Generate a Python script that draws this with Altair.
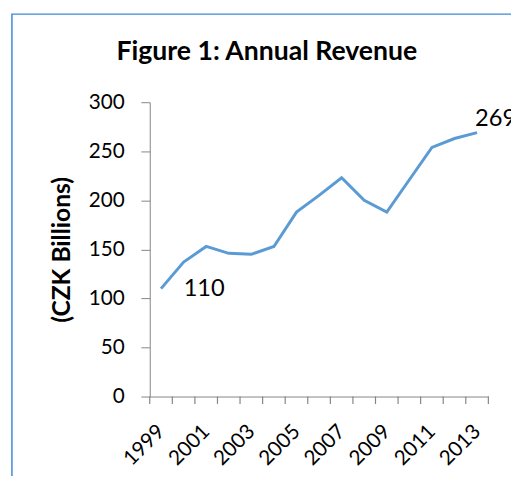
import altair as alt
import pandas as pd

# ---- data ----
years = list(range(1999, 2014))
revenue = [110, 137, 153, 146, 145, 153, 188, 205, 223, 200, 188, 221, 254, 263, 269]
first_year = 1999
last_year = 2013
y_ticks = [0, 50, 100, 150, 200, 250, 300]
x_label_years = [1999, 2001, 2003, 2005, 2007, 2009, 2011, 2013]
x_boundaries = [y - 0.5 for y in years] + [years[-1] + 0.5]
chart_title = "Figure 1: Annual Revenue"
y_title = "(CZK Billions)"

df = pd.DataFrame({"year": years, "revenue": revenue})
df["label"] = [str(v) for v in revenue]
ticks_df = pd.DataFrame({"boundary": x_boundaries})

AXIS_GRAY = "#858585"
LINE_BLUE = "#5B9BD5"
FRAME_BLUE = "#3D8BD8"
FONT = "Lato"

x_scale = alt.Scale(domain=[1998.5, 2013.5], nice=False, zero=False)
y_scale = alt.Scale(domain=[0, 300], nice=False)

x_axis = alt.Axis(
    values=x_label_years,
    tickCount=40,
    format="d",
    labelFont=FONT,
    labelFontSize=21,
    labelColor="black",
    labelAngle=-45,
    labelAlign="right",
    labelBaseline="middle",
    labelOverlap=False,
    labelFlush=False,
    ticks=False,
    labelPadding=32,
    domainColor=AXIS_GRAY,
    grid=False,
    title=None,
)

y_axis = alt.Axis(
    values=y_ticks,
    tickCount=40,
    tickSize=9,
    labelPadding=17,
    labelFont=FONT,
    labelFontSize=21,
    labelColor="black",
    tickColor=AXIS_GRAY,
    domainColor=AXIS_GRAY,
    grid=False,
    title=y_title,
    titleFont=FONT,
    titleFontSize=25,
    titleFontWeight="bold",
    titleColor="black",
    titleAngle=270,
    titleAlign="center",
    titleBaseline="middle",
    titleX=-90,
    titleY=149.5,
)

base = alt.Chart(df)

frame = alt.Chart(alt.Data(values=[{"t": chart_title}])).mark_rect(
    fill="transparent", stroke=FRAME_BLUE, strokeWidth=1.5
).encode(
    x=alt.value(-140), x2=alt.value(700),
    y=alt.value(-89.5), y2=alt.value(700),
)

title_mark = alt.Chart(alt.Data(values=[{"t": chart_title}])).mark_text(
    font=FONT, fontSize=27, fontWeight="bold", color="black",
    align="center", baseline="alphabetic",
).encode(
    x=alt.value(119), y=alt.value(-43), text="t:N",
)

# category-boundary tick marks below the x axis
x_ticks = alt.Chart(ticks_df).mark_rule(color=AXIS_GRAY, strokeWidth=1.2).encode(
    x=alt.X("boundary:Q", scale=x_scale),
    y=alt.Y(datum=0, scale=y_scale),
    y2=alt.value(306.5),
)

line = base.mark_line(color=LINE_BLUE, strokeWidth=3).encode(
    x=alt.X("year:Q", scale=x_scale, axis=x_axis),
    y=alt.Y("revenue:Q", scale=y_scale, axis=y_axis),
)

first_label = base.transform_filter(alt.datum.year == first_year).mark_text(
    font=FONT, fontSize=24, align="left", baseline="middle", dx=23, color="black"
).encode(
    x=alt.X("year:Q", scale=x_scale),
    y=alt.Y("revenue:Q", scale=y_scale),
    text="label:N",
)

last_label = base.transform_filter(alt.datum.year == last_year).mark_text(
    font=FONT, fontSize=24, align="left", baseline="middle", dx=-2, dy=-14, color="black"
).encode(
    x=alt.X("year:Q", scale=x_scale),
    y=alt.Y("revenue:Q", scale=y_scale),
    text="label:N",
)

chart = alt.layer(frame, title_mark, x_ticks, line, first_label, last_label).properties(
    width=344,
    height=299,
    autosize=alt.AutoSizeParams(type="none"),
    padding={"left": 144, "top": 92, "right": 23, "bottom": 77},
).configure_view(stroke="transparent")

chart.save("out.html", embed_options={"renderer": "svg", "actions": False})
